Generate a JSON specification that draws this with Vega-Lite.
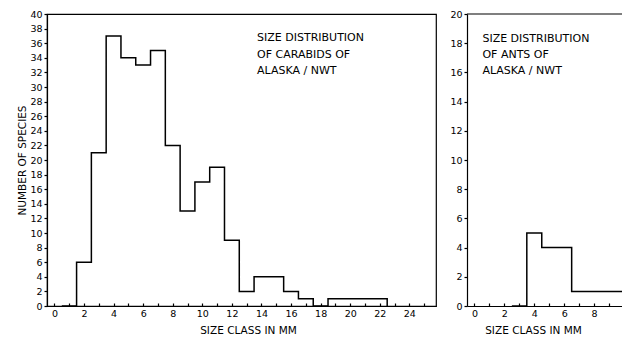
{
  "$schema": "https://vega.github.io/schema/vega-lite/v6.json",
  "background": "white",
  "padding": {"left": 17, "top": 8, "right": 0, "bottom": 0},
  "spacing": 12,
  "config": {
    "font": "DejaVu Sans",
    "view": {"stroke": "black", "strokeWidth": 1.2},
    "axis": {
      "labelFont": "DejaVu Sans", "labelFontSize": 9.5, "labelColor": "black", "labelOverlap": false,
      "titleFont": "DejaVu Sans", "titleFontSize": 10.5, "titleFontWeight": "normal", "titleColor": "black",
      "domainColor": "black", "domainWidth": 1.2, "tickColor": "black", "tickWidth": 1.2, "grid": false
    }
  },
  "datasets": {
    "carabids": [
      {"size": 0.5, "count": 0}, {"size": 1.5, "count": 6}, {"size": 2.5, "count": 21},
      {"size": 3.5, "count": 37}, {"size": 4.5, "count": 34}, {"size": 5.5, "count": 33},
      {"size": 6.5, "count": 35}, {"size": 7.5, "count": 22}, {"size": 8.5, "count": 13},
      {"size": 9.5, "count": 17}, {"size": 10.5, "count": 19}, {"size": 11.5, "count": 9},
      {"size": 12.5, "count": 2}, {"size": 13.5, "count": 4}, {"size": 14.5, "count": 4},
      {"size": 15.5, "count": 2}, {"size": 16.5, "count": 1}, {"size": 17.5, "count": 0},
      {"size": 18.5, "count": 1}, {"size": 19.5, "count": 1}, {"size": 20.5, "count": 1},
      {"size": 21.5, "count": 1}, {"size": 22.5, "count": 0}
    ],
    "ants": [
      {"size": 2.5, "count": 0}, {"size": 3.5, "count": 5}, {"size": 4.5, "count": 4},
      {"size": 5.5, "count": 4}, {"size": 6.5, "count": 1}, {"size": 7.5, "count": 1},
      {"size": 8.5, "count": 1}, {"size": 9.5, "count": 1}, {"size": 10.5, "count": 1}
    ]
  },
  "hconcat": [
    {
      "width": 389, "height": 292,
      "layer": [
        {
          "data": {"name": "carabids"},
          "mark": {"type": "line", "interpolate": "step-after", "color": "black", "strokeWidth": 1.5},
          "encoding": {
            "x": {"field": "size", "type": "quantitative",
              "scale": {"domain": [-0.5, 25.8], "nice": false, "zero": false},
              "axis": {"title": "SIZE CLASS IN MM", "values": [0,1,2,3,4,5,6,7,8,9,10,11,12,13,14,15,16,17,18,19,20,21,22,23,24,25],
                "labelOverlap": false, "tickCount": 26,
                "labelExpr": "datum.value % 2 == 0 ? datum.label : ''", "tickSize": -3, "labelPadding": 5, "titlePadding": 8, "titleX": 201}},
            "y": {"field": "count", "type": "quantitative",
              "scale": {"domain": [0, 40], "nice": false},
              "axis": {"title": "NUMBER OF SPECIES", "values": [0,2,4,6,8,10,12,14,16,18,20,22,24,26,28,30,32,34,36,38,40],
                "labelOverlap": false, "tickCount": 21,
                "tickSize": 3, "labelPadding": 2, "titlePadding": 2}}
          }
        },
        {
          "data": {"values": [{}]},
          "mark": {"type": "text", "align": "left", "baseline": "alphabetic", "fontSize": 11, "lineHeight": 16.5, "color": "black"},
          "encoding": {
            "x": {"datum": 13.7, "type": "quantitative"},
            "y": {"datum": 36.3, "type": "quantitative"},
            "text": {"value": ["SIZE DISTRIBUTION", "OF CARABIDS OF", "ALASKA / NWT"]}
          }
        }
      ]
    },
    {
      "width": 157, "height": 292,
      "view": {"stroke": null},
      "layer": [
        {
          "data": {"name": "ants"},
          "mark": {"type": "line", "interpolate": "step-after", "color": "black", "strokeWidth": 1.5, "clip": true},
          "encoding": {
            "x": {"field": "size", "type": "quantitative",
              "scale": {"domain": [-0.5, 10], "nice": false, "zero": false},
              "axis": {"title": "SIZE CLASS IN MM", "values": [0,1,2,3,4,5,6,7,8,9,10],
                "labelOverlap": false, "tickCount": 11,
                "labelExpr": "datum.value % 2 == 0 && datum.value < 10 ? datum.label : ''", "tickSize": -3, "labelPadding": 5, "titlePadding": 8, "titleX": 66}},
            "y": {"field": "count", "type": "quantitative",
              "scale": {"domain": [0, 20], "nice": false},
              "axis": {"title": null, "values": [0,2,4,6,8,10,12,14,16,18,20], "labelOverlap": false, "tickCount": 11, "tickSize": 3, "labelPadding": 2}}
          }
        },
        {
          "data": {"values": [{}]},
          "mark": {"type": "rule", "color": "black", "strokeWidth": 1.2},
          "encoding": {"y": {"datum": 20, "type": "quantitative"}}
        },
        {
          "data": {"values": [{}]},
          "mark": {"type": "text", "align": "left", "baseline": "alphabetic", "fontSize": 11, "lineHeight": 16, "color": "black"},
          "encoding": {
            "x": {"datum": 0.53, "type": "quantitative"},
            "y": {"datum": 18.07, "type": "quantitative"},
            "text": {"value": ["SIZE DISTRIBUTION", "OF ANTS OF", "ALASKA / NWT"]}
          }
        }
      ]
    }
  ]
}
